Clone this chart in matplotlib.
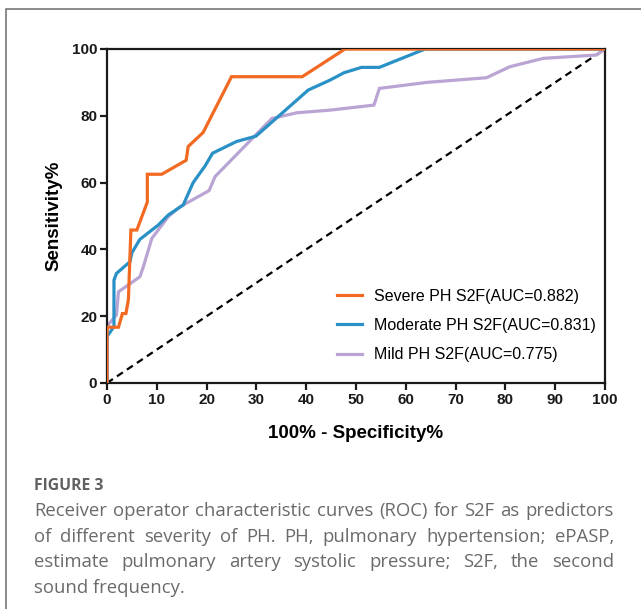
import matplotlib
matplotlib.use("Agg")
import matplotlib.pyplot as plt
from matplotlib.patches import Rectangle

# ---- data ----
severe_x = [0, 0, 2.3, 3.1, 3.8, 4.3, 4.8, 6.0, 8.1, 8.1, 11.0, 15.9, 16.3, 19.3, 25.0, 39.2, 47.8, 100]
severe_y = [0, 16.7, 16.7, 20.8, 20.8, 25.0, 45.8, 45.8, 54.2, 62.5, 62.5, 66.7, 70.8, 75.0, 91.7, 91.7, 100, 100]

moderate_x = [0, 0, 1.4, 1.4, 1.9, 4.6, 5.0, 6.6, 10.3, 12.3, 15.3, 17.3, 19.7, 21.2, 26.0, 29.9, 34.7,
              40.4, 44.8, 47.6, 51.1, 54.7, 59.2, 63.9, 100]
moderate_y = [0, 13.9, 16.9, 30.8, 32.8, 36.3, 39.0, 43.0, 47.3, 50.3, 53.3, 60.0, 65.0, 68.8, 72.3, 73.9, 80.2,
              87.7, 90.7, 92.9, 94.5, 94.5, 97.2, 100, 100]

mild_x = [0, 0, 1.9, 2.3, 6.6, 7.3, 9.0, 12.3, 14.7, 20.5, 21.7, 33.1, 38.1, 44.8, 53.6, 54.7, 64.2,
          76.2, 80.9, 87.6, 98.3, 100]
mild_y = [0, 17.0, 20.4, 27.3, 31.8, 34.8, 43.3, 49.8, 52.8, 57.6, 61.8, 79.2, 80.9, 81.7, 83.2, 88.2, 90.0,
          91.4, 94.7, 97.2, 98.2, 100]

labels = ["Severe PH S2F(AUC=0.882)", "Moderate PH S2F(AUC=0.831)", "Mild PH S2F(AUC=0.775)"]
colors = ["#F26A21", "#2A91C6", "#B9A4D4"]

x_ticks = list(range(0, 101, 10))
y_ticks = list(range(0, 101, 20))

caption_title = "FIGURE 3"
caption_lines = [
    "Receiver operator characteristic curves (ROC) for S2F as predictors",
    "of different severity of PH. PH, pulmonary hypertension; ePASP,",
    "estimate pulmonary artery systolic pressure; S2F, the second",
    "sound frequency.",
]

W, H = 641, 609
fig = plt.figure(figsize=(W / 100, H / 100), dpi=100)

# outer frame (open to the right and bottom as in the reference)
fig.patches.append(Rectangle((6 / W, -0.05), 1.2, 1 - 9 / H + 0.05, transform=fig.transFigure,
                             fill=False, edgecolor="#6b6b6b", linewidth=1.1))

ax = fig.add_axes([107 / W, 1 - 383 / H, (605 - 107) / W, (383 - 49) / H])
ax.set_xlim(0, 100)
ax.set_ylim(0, 100)

ax.plot([0, 100], [0, 100], color="black", linestyle=(0, (3.2, 2.2)), linewidth=1.6, zorder=1)
ax.plot(mild_x, mild_y, color=colors[2], linewidth=2.3, label=labels[2], zorder=2, solid_joinstyle="miter")
ax.plot(moderate_x, moderate_y, color=colors[1], linewidth=2.3, label=labels[1], zorder=3, solid_joinstyle="miter")
ax.plot(severe_x, severe_y, color=colors[0], linewidth=2.3, label=labels[0], zorder=4, solid_joinstyle="miter")

for s in ax.spines.values():
    s.set_linewidth(1.6)
    s.set_color("#1a1a1a")

tickfont = dict(family="Liberation Sans", weight="bold", size=11)
ax.set_xticks(x_ticks)
ax.set_yticks(y_ticks)
ax.set_xticklabels([str(v) for v in x_ticks], fontdict=tickfont)
ax.set_yticklabels([str(v) for v in y_ticks], fontdict=tickfont)
ax.tick_params(direction="out", length=5, width=1.6, pad=2, colors="#1a1a1a")

ax.set_xlabel("100% - Specificity%", family="Liberation Sans", weight="bold", size=13.5, labelpad=13)
ax.set_ylabel("Sensitivity%", family="Liberation Sans", weight="bold", size=13.5, labelpad=7)

handles, labs = ax.get_legend_handles_labels()
order = [2, 1, 0]
leg = ax.legend([handles[i] for i in order], [labs[i] for i in order],
                loc="upper left", bbox_to_anchor=(337 / W, 1 - 289 / H), bbox_transform=fig.transFigure,
                frameon=False, prop=dict(family="Liberation Sans", size=11.5),
                handlelength=1.55, handletextpad=0.75, labelspacing=0.88, borderpad=0, borderaxespad=0)

# ---- caption ----
cap_color = "#6a6a6a"
fig.text(34 / W, 1 - 486 / H, caption_title, family="Open Sans", weight="bold", size=11.3,
         color="#606060", va="center", ha="left")

renderer = fig.canvas.get_renderer()
left_px, right_px = 34, 614
line_y = [511, 537, 562, 588]
capsize = 13.3
for i, line in enumerate(caption_lines):
    words = line.split(" ")
    y = 1 - line_y[i] / H
    if i == len(caption_lines) - 1:
        fig.text(left_px / W, y, line, family="Open Sans", size=capsize, color=cap_color, va="center", ha="left")
        continue
    texts = []
    widths = []
    for w_ in words:
        t = fig.text(0, y, w_, family="Open Sans", size=capsize, color=cap_color, va="center", ha="left")
        bb = t.get_window_extent(renderer)
        texts.append(t)
        widths.append(bb.width)
    gap = (right_px - left_px - sum(widths)) / (len(words) - 1)
    x = left_px
    for t, wd in zip(texts, widths):
        t.set_x(x / W)
        x += wd + gap

fig.savefig("out.png", dpi=100)
